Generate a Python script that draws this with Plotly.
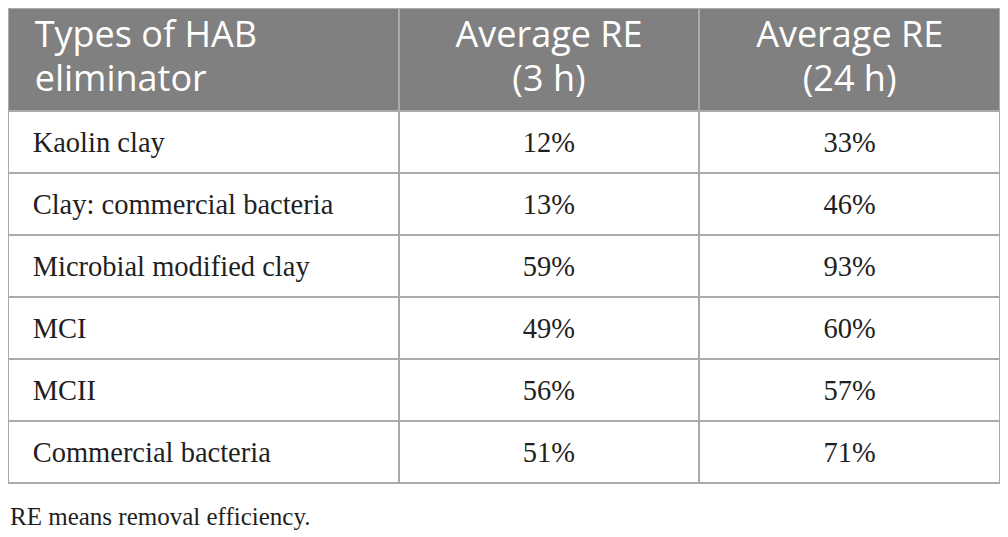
import plotly.graph_objects as go

# table content
header_line1 = ["Types of HAB", "Average RE", "Average RE"]
header_line2 = ["eliminator", "(3 h)", "(24 h)"]
eliminator_types = ["Kaolin clay", "Clay: commercial bacteria", "Microbial modified clay",
                    "MCI", "MCII", "Commercial bacteria"]
re_3h = [12, 13, 59, 49, 56, 51]
re_24h = [33, 46, 93, 60, 57, 71]
footnote = "RE means removal efficiency."

line_col = "#ababab"
clear = "rgba(0,0,0,0)"
nb = "\u00a0"
col_w = [391, 301, 301]
n_rows = len(eliminator_types)
fig_h = 529

# 1) grid only: fills + lines, no text
grid = go.Table(
    columnwidth=col_w,
    header=dict(values=["", "", ""], fill_color="#808080",
                line=dict(color=line_col, width=2), height=103),
    cells=dict(values=[[""] * n_rows] * 3, fill_color="white",
               line=dict(color=line_col, width=2), height=62),
)

# 2) header text, one header row per text line so each line is centred
hdr_text = go.Table(
    columnwidth=col_w,
    header=dict(
        values=[[nb * 2 + header_line1[0], nb * 2 + header_line2[0]],
                [header_line1[1], header_line2[1]],
                [header_line1[2], header_line2[2]]],
        fill_color=clear, line=dict(color=clear, width=0),
        align=["left", "center", "center"],
        font=dict(family="Open Sans", size=36, color="white"),
        height=44,
    ),
    cells=dict(values=[[], [], []], fill_color=clear, line=dict(color=clear, width=0)),
    domain=dict(x=[0, 1], y=[0, 1 - 4 / fig_h]),
)

# 3) body text, pushed down a bit so it sits mid-row
body_text = go.Table(
    columnwidth=col_w,
    header=dict(values=["", "", ""], fill_color=clear,
                line=dict(color=clear, width=0), height=115),
    cells=dict(
        values=[[nb * 2 + "\u200a" + t for t in eliminator_types],
                [f"{v}%" for v in re_3h],
                [f"{v}%" for v in re_24h]],
        fill_color=clear, line=dict(color=clear, width=0),
        align=["left", "center", "center"],
        font=dict(family="Liberation Serif", size=28.5, color="#1f1f1f"),
        height=62,
    ),
)

fig = go.Figure([grid, hdr_text, body_text])

fig.add_annotation(
    text=footnote, xref="paper", yref="paper", x=0, y=(fig_h - 508) / fig_h,
    xanchor="left", yanchor="middle", showarrow=False,
    font=dict(family="Liberation Serif", size=25, color="#1f1f1f"),
)

fig.update_layout(
    width=1000, height=fig_h,
    margin=dict(l=0, r=8, t=0, b=0),
    paper_bgcolor="white",
)

fig.write_html("out.html")
